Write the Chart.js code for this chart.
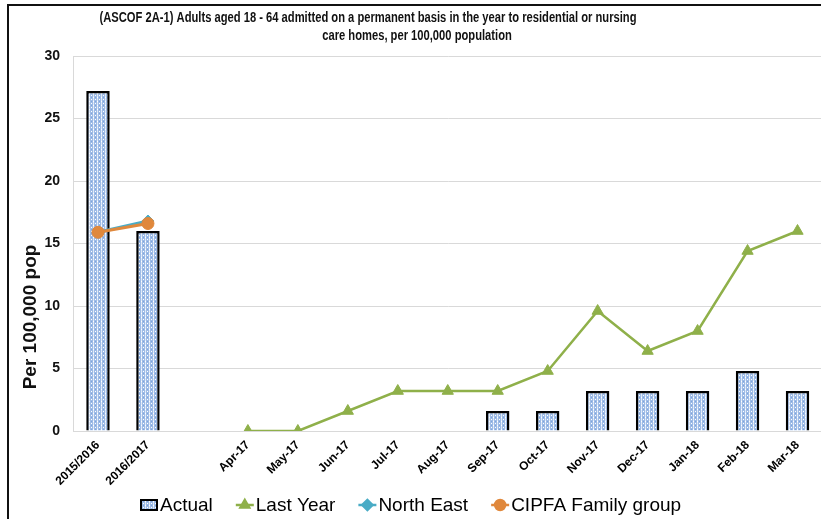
<!DOCTYPE html>
<html>
<head>
<meta charset="utf-8">
<title>ASCOF 2A-1</title>
<script src="https://cdn.jsdelivr.net/npm/chart.js@4.4.1/dist/chart.umd.min.js"></script>
<style>
  html, body { margin: 0; padding: 0; background: #fff; overflow: hidden; }
  #wrap { position: relative; width: 821px; height: 519px; overflow: hidden; }
  #box { position: absolute; left: 0; top: 0; width: 830px; height: 519px; }
  #frame { position: absolute; left: 7px; top: 4px; width: 900px; height: 600px; border-top: 2px solid #111; border-left: 2px solid #111; }
</style>
</head>
<body>
<div id="wrap">
  <div id="box"><canvas id="kpiChart" width="830" height="519"></canvas></div>
  <div id="frame"></div>
</div>
<script>
// categories: two yearly outturns, a spacer, then the monthly points
var categories = ['2015/2016', '2016/2017', '', 'Apr-17', 'May-17', 'Jun-17', 'Jul-17', 'Aug-17',
  'Sep-17', 'Oct-17', 'Nov-17', 'Dec-17', 'Jan-18', 'Feb-18', 'Mar-18'];
var actual = [27.2, 16.0, null, null, null, null, null, null, 1.6, 1.6, 3.2, 3.2, 3.2, 4.8, 3.2];
var lastYear = [null, null, null, 0, 0, 1.6, 3.2, 3.2, 3.2, 4.8, 9.6, 6.4, 8.0, 14.4, 16.0];
var northEast = [15.9, 16.8, null, null, null, null, null, null, null, null, null, null, null, null, null];
var cipfa = [15.9, 16.6, null, null, null, null, null, null, null, null, null, null, null, null, null];
var yMin = 0, yMax = 30, yStep = 5;

var titleLines = [
  '(ASCOF 2A-1) Adults aged 18 - 64 admitted on a permanent basis in the year to residential or nursing',
  'care homes, per 100,000 population'
];
var yTitle = 'Per 100,000 pop';

// dotted blue fill used on the bars
function makePattern() {
  var c = document.createElement('canvas');
  c.width = 4; c.height = 4;
  var g = c.getContext('2d');
  g.fillStyle = '#9dbbe6';
  g.fillRect(0, 0, 4, 4);
  g.fillStyle = '#dfe9f8';
  g.fillRect(1, 0, 1, 4);
  g.fillStyle = '#ffffff';
  g.fillRect(1, 1, 1, 1);
  g.fillRect(3, 3, 1, 1);
  g.fillStyle = '#7fa4dc';
  g.fillRect(3, 1, 1, 1);
  return g.createPattern(c, 'repeat');
}
var barFill = makePattern();

// title and rotated axis title
var textPlugin = {
  id: 'chartText',
  afterDraw: function (chart) {
    var ctx = chart.ctx;
    ctx.save();
    ctx.fillStyle = '#111';
    ctx.textAlign = 'center';
    ctx.textBaseline = 'middle';
    ctx.font = 'bold 14px "Liberation Sans Narrow", "Arial Narrow", "Liberation Sans", sans-serif';
    var w = ctx.measureText(titleLines[0]).width;
    var sx = 537 / w;
    ctx.save();
    ctx.translate(368, 18);
    ctx.scale(sx, 1);
    ctx.fillText(titleLines[0], 0, 0);
    ctx.restore();
    ctx.save();
    ctx.translate(417, 36);
    ctx.scale(sx, 1);
    ctx.fillText(titleLines[1], 0, 0);
    ctx.restore();

    ctx.font = 'bold 19px "Liberation Sans", Arial, sans-serif';
    ctx.translate(31, 317);
    ctx.rotate(-Math.PI / 2);
    ctx.fillText(yTitle, 0, 0);
    ctx.restore();
  }
};

// legend along the bottom, with line + marker samples
var legendPlugin = {
  id: 'bottomLegend',
  afterDraw: function (chart) {
    var ctx = chart.ctx;
    var y = 505;
    var x = 140;
    ctx.save();
    ctx.font = '19px "Liberation Sans", Arial, sans-serif';
    ctx.textBaseline = 'middle';
    ctx.textAlign = 'left';
    chart.data.datasets.forEach(function (ds) {
      if (ds.type === 'bar') {
        ctx.fillStyle = barFill;
        ctx.fillRect(x, y - 6, 18, 12);
        ctx.strokeStyle = '#000';
        ctx.lineWidth = 2;
        ctx.strokeRect(x + 1, y - 5, 16, 10);
      } else {
        ctx.strokeStyle = ds.borderColor;
        ctx.fillStyle = ds.borderColor;
        ctx.lineWidth = 2.5;
        ctx.beginPath();
        ctx.moveTo(x, y);
        ctx.lineTo(x + 18, y);
        ctx.stroke();
        Chart.helpers.drawPoint(ctx, {
          pointStyle: ds.pointStyle, radius: 5, borderWidth: 1, rotation: 0
        }, x + 9, y);
      }
      ctx.fillStyle = '#000';
      ctx.fillText(ds.label, x + 20, y + 1);
      x += 20 + ctx.measureText(ds.label).width + 23;
    });
    ctx.restore();
  }
};

var config = {
  type: 'bar',
  data: {
    labels: categories,
    datasets: [{
      type: 'bar',
      label: 'Actual',
      data: actual,
      backgroundColor: barFill,
      borderColor: '#000',
      borderWidth: 2.5,
      barPercentage: 0.94,
      categoryPercentage: 0.5,
      order: 4
    }, {
      type: 'line',
      label: 'Last Year',
      data: lastYear,
      borderColor: '#8fb04a',
      backgroundColor: '#8fb04a',
      borderWidth: 2.5,
      pointStyle: 'triangle',
      pointRadius: 6.5,
      pointBorderWidth: 1,
      tension: 0,
      order: 3
    }, {
      type: 'line',
      label: 'North East',
      data: northEast,
      borderColor: '#4aacc6',
      backgroundColor: '#4aacc6',
      borderWidth: 3,
      pointStyle: 'rectRot',
      pointRadius: 6,
      pointBorderWidth: 1,
      tension: 0,
      order: 2
    }, {
      type: 'line',
      label: 'CIPFA Family group',
      data: cipfa,
      borderColor: '#e0883c',
      backgroundColor: '#e0883c',
      borderWidth: 3,
      pointStyle: 'circle',
      pointRadius: 6,
      pointBorderWidth: 1,
      tension: 0,
      order: 1
    }]
  },
  options: {
    responsive: false,
    animation: false,
    layout: { padding: { top: 56, right: 2, left: 0, bottom: 0 } },
    plugins: {
      legend: { display: false },
      title: { display: false },
      tooltip: { enabled: false }
    },
    scales: {
      x: {
        grid: { display: false, drawTicks: false },
        border: { display: true, color: '#d9d9d9' },
        ticks: {
          autoSkip: false,
          minRotation: 45,
          maxRotation: 45,
          padding: 7,
          color: '#000',
          font: { family: '"Liberation Sans", Arial, sans-serif', size: 12, weight: 'bold' }
        },
        afterFit: function (scale) { scale.height = 88; }
      },
      y: {
        min: yMin,
        max: yMax,
        grid: { color: '#d9d9d9', drawTicks: false },
        border: { display: true, color: '#d9d9d9' },
        ticks: {
          stepSize: yStep,
          padding: 13,
          color: '#111',
          font: { family: '"Liberation Sans", Arial, sans-serif', size: 14, weight: 'bold' }
        },
        afterFit: function (scale) { scale.width = 73; }
      }
    }
  },
  plugins: [textPlugin, legendPlugin]
};

// Create the chart
var myChart = new Chart(document.getElementById('kpiChart'), config);
</script>
</body>
</html>
